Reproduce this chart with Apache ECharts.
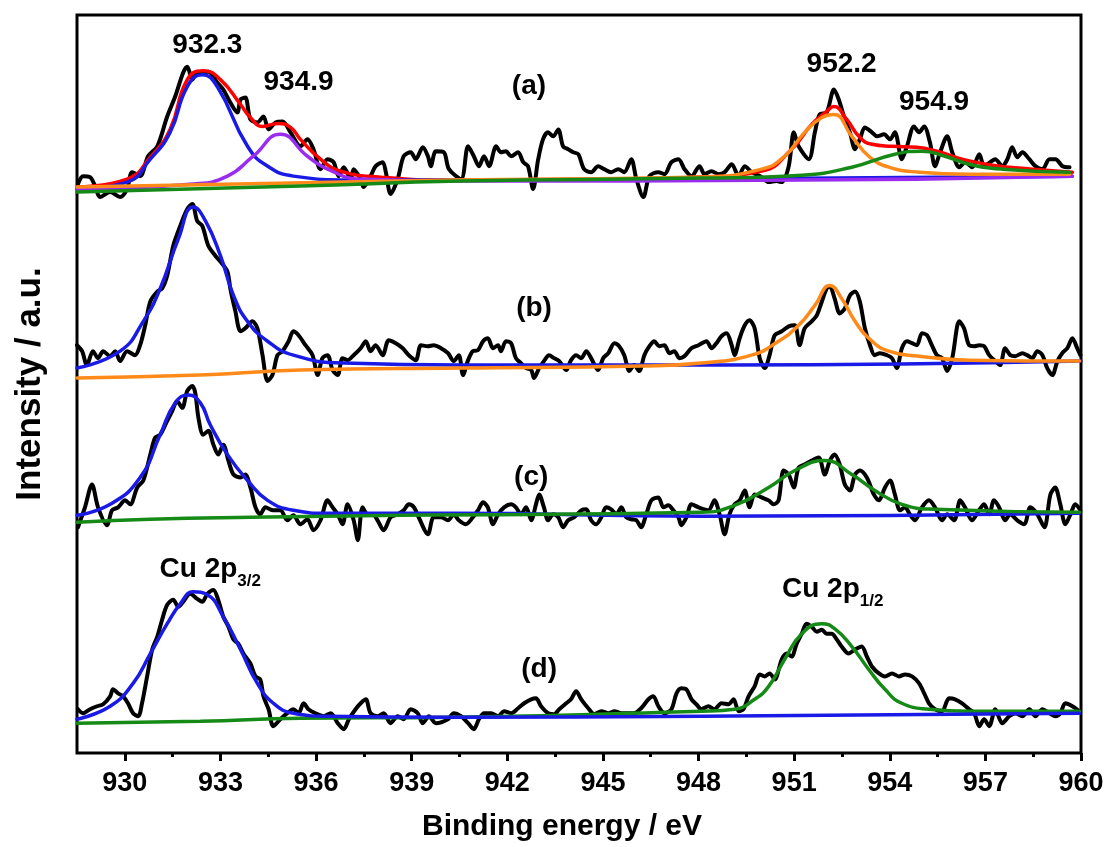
<!DOCTYPE html>
<html><head><meta charset="utf-8">
<script src="https://cdn.jsdelivr.net/npm/echarts@6/dist/echarts.min.js"></script>
<style>html,body{margin:0;padding:0;background:#fff}#c{width:1109px;height:847px}</style>
</head><body><div id="c"></div><script>
// Binding energy tick labels
const xTicks = [930, 933, 936, 939, 942, 945, 948, 951, 954, 957, 960];
const xMinorTicks = [931.5, 934.5, 937.5, 940.5, 943.5, 946.5, 949.5, 952.5, 955.5, 958.5];

// ---- spectrum (a) ----
const aRaw = [[928.53,572],[928.69,580],[928.91,579],[929.07,570],[929.22,559],[929.54,564],[929.85,559],[930.07,567],[930.23,584],[930.48,580],[930.73,600],[931.02,610],[931.33,640],[931.58,660],[931.83,684],[931.96,690],[932.12,677],[932.27,685],[932.43,684],[932.62,685],[932.90,674],[933.09,667],[933.31,654],[933.53,644],[933.63,657],[933.78,659],[933.94,637],[934.16,634],[934.35,640],[934.51,627],[934.73,634],[934.95,635],[935.20,624],[935.51,610],[935.73,617],[935.92,607],[936.14,587],[936.36,597],[936.55,594],[936.71,580],[936.87,589],[937.09,577],[937.18,587],[937.40,577],[937.49,569],[937.71,580],[937.87,590],[938.09,594],[938.19,584],[938.34,562],[938.56,577],[938.75,600],[938.97,604],[939.13,597],[939.35,609],[939.51,600],[939.60,590],[939.76,605],[940.01,604],[940.17,587],[940.55,577],[940.77,610],[940.95,600],[941.11,590],[941.27,600],[941.43,590],[941.65,610],[941.80,604],[941.96,605],[942.12,600],[942.34,604],[942.50,594],[942.65,590],[942.81,567],[942.97,597],[943.12,617],[943.28,624],[943.44,620],[943.60,627],[943.75,610],[943.91,607],[944.07,604],[944.23,602],[944.41,587],[944.63,584],[944.85,590],[945.04,587],[945.26,584],[945.48,587],[945.67,584],[945.89,597],[946.05,577],[946.27,559],[946.46,580],[946.74,584],[946.93,582],[947.15,594],[947.37,597],[947.56,587],[947.78,580],[948.03,590],[948.19,582],[948.41,585],[948.63,582],[948.82,584],[949.04,592],[949.26,580],[949.45,590],[949.67,584],[949.98,579],[950.20,574],[950.45,575],[950.61,574],[950.83,590],[950.99,624],[951.14,610],[951.46,597],[951.65,624],[951.80,642],[952.02,644],[952.25,667],[952.40,657],[952.59,637],[952.75,624],[952.91,607],[953.06,617],[953.22,629],[953.44,624],[953.60,620],[953.82,622],[954.01,617],[954.16,624],[954.38,597],[954.54,610],[954.76,630],[954.92,624],[955.08,630],[955.26,614],[955.42,590],[955.58,604],[955.80,620],[955.96,604],[956.18,589],[956.37,594],[956.59,589],[956.81,602],[956.96,590],[957.15,594],[957.31,597],[957.53,590],[957.69,597],[957.84,609],[958.00,599],[958.16,604],[958.38,597],[958.57,590],[958.79,587],[959.01,597],[959.20,597],[959.42,590],[959.64,589]];
const aEnvelope = [[928.50,569],[930.07,577],[930.80,599],[931.42,627],[931.96,677],[932.46,686],[933.00,677],[933.63,652],[933.94,639],[934.32,630],[934.82,633],[935.20,629],[935.51,617],[936.14,597],[936.77,585],[938.03,579],[940.23,576],[944.95,577],[948.09,579],[949.98,585],[950.92,607],[951.55,632],[952.02,645],[952.24,650],[952.65,637],[953.06,619],[953.44,612],[954.07,610],[954.85,609],[955.48,605],[956.27,597],[957.21,591],[958.47,587],[959.73,584]];
const aPeak9323 = [[928.50,567],[930.07,574],[930.80,597],[931.42,624],[931.96,670],[932.43,682],[932.90,670],[933.85,610],[934.48,590],[935.29,580],[937.09,576],[948.09,577],[959.73,580]];
const aPeak9349 = [[928.50,567],[932.15,572],[933.22,580],[934.03,600],[934.88,622],[935.73,600],[936.36,587],[937.40,577],[940.23,575],[951.24,576],[959.73,580]];
const aPeak9522 = [[928.50,569],[940.23,576],[948.09,579],[949.98,587],[950.70,600],[951.33,624],[951.87,639],[952.24,642],[952.81,620],[953.34,600],[953.97,589],[954.92,584],[956.49,582],[959.64,582]];
const aPeak9549 = [[928.50,564],[935.51,570],[940.55,575],[948.09,578],[951.24,581],[952.81,589],[954.16,602],[955.01,605],[955.73,600],[956.49,592],[957.53,587],[959.64,584]];

// ---- spectrum (b) ----
const bRaw = [[928.50,410],[928.66,404],[928.81,390],[929.00,404],[929.16,397],[929.32,404],[929.54,399],[929.70,404],[929.85,394],[930.07,404],[930.32,400],[930.48,410],[930.64,430],[930.80,454],[931.02,464],[931.17,467],[931.33,480],[931.52,510],[931.74,530],[931.96,547],[932.12,552],[932.27,535],[932.43,530],[932.62,510],[932.84,500],[933.00,494],[933.22,484],[933.31,467],[933.47,444],[933.63,424],[933.78,427],[934.00,434],[934.16,427],[934.32,400],[934.48,374],[934.63,380],[934.79,400],[934.95,404],[935.14,414],[935.29,424],[935.45,420],[935.67,410],[935.89,400],[936.05,380],[936.20,397],[936.36,400],[936.52,385],[936.68,380],[936.83,397],[936.99,395],[937.18,400],[937.40,407],[937.56,414],[937.71,404],[937.87,410],[938.09,400],[938.28,415],[938.50,412],[938.72,407],[938.91,400],[939.13,395],[939.29,410],[939.51,409],[939.69,410],[939.92,407],[940.14,402],[940.32,394],[940.48,400],[940.61,380],[940.77,395],[940.92,404],[941.08,405],[941.24,414],[941.39,417],[941.55,407],[941.71,410],[941.80,404],[941.96,414],[942.12,412],[942.27,397],[942.43,392],[942.59,387],[942.75,385],[942.84,377],[943.00,387],[943.15,394],[943.31,400],[943.47,397],[943.63,394],[943.85,385],[944.00,395],[944.16,400],[944.32,397],[944.48,404],[944.63,397],[944.85,385],[945.01,397],[945.17,402],[945.36,412],[945.51,409],[945.67,400],[945.83,384],[945.98,390],[946.14,384],[946.30,400],[946.46,409],[946.61,414],[946.77,409],[946.93,410],[947.09,402],[947.24,404],[947.40,397],[947.56,399],[947.78,407],[948.00,410],[948.25,414],[948.41,407],[948.56,412],[948.72,419],[948.88,422],[949.04,410],[949.13,400],[949.29,417],[949.45,430],[949.60,435],[949.76,427],[949.92,397],[950.08,387],[950.23,400],[950.39,420],[950.61,424],[950.83,429],[951.02,430],[951.17,410],[951.33,427],[951.55,434],[951.71,440],[951.87,454],[952.02,467],[952.12,469],[952.27,457],[952.43,442],[952.59,447],[952.75,460],[952.91,464],[953.06,454],[953.22,427],[953.38,410],[953.53,400],[953.69,402],[953.91,400],[954.07,397],[954.22,387],[954.38,407],[954.54,414],[954.70,412],[954.85,410],[955.01,422],[955.17,420],[955.32,410],[955.48,400],[955.64,397],[955.80,384],[955.96,397],[956.18,434],[956.33,427],[956.49,410],[956.65,409],[956.81,410],[956.96,409],[957.12,400],[957.31,394],[957.46,390],[957.62,407],[957.78,400],[957.94,399],[958.16,402],[958.31,400],[958.47,397],[958.63,404],[958.79,400],[958.94,387],[959.10,380],[959.26,394],[959.41,402],[959.57,407],[959.73,417],[959.88,407],[959.98,400]];
const bPeak932 = [[928.50,387],[929.85,404],[930.58,434],[931.11,467],[931.68,517],[932.15,549],[932.53,535],[933.00,500],[933.41,460],[933.85,434],[934.48,414],[935.29,400],[936.87,392],[940.55,390],[948.72,390],[960.00,394]];
const bPeak952 = [[928.50,377],[932.37,380],[935.51,385],[940.55,387],[946.20,389],[948.09,392],[949.66,400],[950.51,414],[951.14,430],[951.65,450],[952.12,470],[952.49,457],[952.91,434],[953.34,417],[953.97,404],[954.92,399],[956.49,395],[959.95,394]];

// ---- spectrum (c) ----
const cRaw = [[928.53,227],[928.75,247],[928.97,270],[929.16,247],[929.44,229],[929.60,244],[929.79,247],[930.01,254],[930.17,250],[930.39,267],[930.58,274],[930.80,300],[930.95,317],[931.11,320],[931.33,334],[931.49,344],[931.64,354],[931.80,347],[931.96,364],[932.12,369],[932.21,362],[932.31,337],[932.46,320],[932.62,324],[932.78,310],[932.93,300],[933.09,310],[933.25,294],[933.41,280],[933.63,277],[933.78,280],[933.94,267],[934.10,247],[934.25,240],[934.41,247],[934.66,244],[934.88,244],[935.10,234],[935.29,239],[935.51,230],[935.73,235],[935.92,224],[936.14,234],[936.36,254],[936.52,247],[936.68,240],[936.83,230],[936.99,250],[937.18,234],[937.31,214],[937.46,247],[937.62,240],[937.78,240],[937.93,234],[938.12,224],[938.34,237],[938.56,240],[938.75,244],[938.91,250],[939.07,247],[939.22,237],[939.51,220],[939.69,237],[939.92,237],[940.14,234],[940.32,240],[940.48,234],[940.70,230],[940.92,237],[941.08,244],[941.24,252],[941.39,247],[941.55,230],[941.71,240],[941.90,247],[942.12,250],[942.27,247],[942.43,240],[942.59,247],[942.75,234],[942.90,250],[943.00,260],[943.15,247],[943.28,234],[943.44,240],[943.60,237],[943.75,227],[943.91,234],[944.10,237],[944.32,244],[944.48,245],[944.63,234],[944.79,230],[944.95,237],[945.10,247],[945.26,245],[945.42,240],[945.58,247],[945.73,237],[945.89,235],[946.05,234],[946.20,227],[946.36,240],[946.52,254],[946.74,257],[946.90,247],[947.05,249],[947.21,244],[947.37,237],[947.46,229],[947.62,237],[947.78,250],[948.00,247],[948.31,244],[948.50,254],[948.66,240],[948.82,220],[948.97,240],[949.13,250],[949.29,254],[949.45,264],[949.60,247],[949.76,260],[949.98,257],[950.20,254],[950.36,250],[950.51,254],[950.67,284],[950.83,280],[950.99,267],[951.14,287],[951.33,290],[951.55,294],[951.77,297],[951.96,280],[952.12,294],[952.27,300],[952.43,290],[952.59,270],[952.75,264],[952.91,280],[953.06,284],[953.28,277],[953.50,260],[953.66,254],[953.85,267],[954.01,274],[954.16,260],[954.32,244],[954.48,247],[954.63,240],[954.79,234],[955.01,247],[955.23,254],[955.42,247],[955.64,234],[955.80,240],[956.02,234],[956.21,254],[956.36,247],[956.58,234],[956.80,244],[956.96,250],[957.12,240],[957.27,254],[957.43,247],[957.62,234],[957.78,240],[958.00,234],[958.22,230],[958.41,247],[958.63,240],[958.85,227],[959.04,260],[959.19,267],[959.35,250],[959.51,230],[959.67,240],[959.82,250],[959.98,244]];
const cPeak932 = [[928.50,239],[929.54,250],[930.48,277],[931.11,320],[931.58,352],[932.00,360],[932.37,352],[932.68,330],[933.22,300],[933.85,274],[934.48,254],[935.29,244],[936.36,241],[940.23,241],[948.09,238],[959.95,241]];
const cPeak952 = [[928.50,232],[930.80,235],[933.94,237],[938.66,239],[948.09,242],[949.13,249],[950.20,267],[951.02,284],[951.96,294],[952.81,280],[953.53,264],[954.38,250],[955.42,245],[959.95,242]];

// ---- spectrum (d) ----
const dRaw = [[928.53,44],[928.69,40],[928.91,44],[929.13,47],[929.32,49],[929.54,57],[929.63,64],[929.79,60],[929.95,57],[930.10,50],[930.26,40],[930.42,37],[930.54,50],[930.70,77],[930.86,104],[931.02,117],[931.17,134],[931.33,149],[931.52,154],[931.68,147],[931.83,152],[932.05,160],[932.27,155],[932.43,152],[932.59,160],[932.78,164],[932.93,154],[933.09,137],[933.25,127],[933.41,114],[933.56,110],[933.72,100],[933.94,90],[934.10,77],[934.25,74],[934.35,57],[934.51,44],[934.66,27],[934.88,34],[935.10,40],[935.29,44],[935.45,40],[935.61,50],[935.76,44],[935.98,40],[936.24,37],[936.46,40],[936.68,30],[936.87,24],[937.03,34],[937.24,44],[937.40,50],[937.56,54],[937.71,40],[937.93,37],[938.12,40],[938.34,30],[938.56,37],[938.75,34],[938.97,44],[939.19,40],[939.35,30],[939.54,37],[939.76,30],[940.14,34],[940.32,40],[940.55,37],[940.77,30],[940.95,24],[941.11,34],[941.27,40],[941.49,40],[941.71,37],[941.90,42],[942.12,40],[942.34,45],[942.53,50],[942.75,54],[942.90,55],[943.06,47],[943.28,40],[943.47,39],[943.63,44],[943.85,50],[944.00,54],[944.16,62],[944.32,54],[944.54,45],[944.73,39],[944.95,42],[945.17,40],[945.36,42],[945.58,40],[945.80,40],[945.98,40],[946.20,45],[946.43,54],[946.58,57],[946.74,47],[946.93,40],[947.15,44],[947.31,60],[947.46,65],[947.62,64],[947.78,54],[947.93,49],[948.09,44],[948.31,47],[948.50,44],[948.72,50],[948.94,49],[949.10,54],[949.26,42],[949.41,44],[949.57,57],[949.76,67],[949.92,79],[950.08,77],[950.23,80],[950.39,74],[950.61,94],[950.77,100],[950.92,97],[951.08,110],[951.24,120],[951.39,130],[951.55,127],[951.71,122],[951.87,124],[952.02,120],[952.18,120],[952.34,114],[952.49,107],[952.71,100],[952.91,104],[953.12,107],[953.28,97],[953.44,87],[953.66,80],[953.85,77],[954.07,80],[954.29,77],[954.48,79],[954.70,77],[954.92,70],[955.08,60],[955.23,50],[955.42,44],[955.64,42],[955.86,55],[956.05,54],[956.27,50],[956.49,44],[956.65,40],[956.81,27],[956.96,34],[957.12,27],[957.31,44],[957.53,30],[957.75,37],[957.94,40],[958.16,37],[958.38,44],[958.57,37],[958.79,44],[959.01,40],[959.20,37],[959.35,40],[959.51,50],[959.73,47],[959.95,42]];
const dPeak932 = [[928.50,34],[929.54,47],[930.26,70],[930.80,100],[931.33,130],[931.74,150],[932.15,162],[932.59,159],[933.09,137],[933.63,104],[934.16,70],[934.66,50],[935.29,40],[936.36,37],[940.23,36],[948.09,37],[959.95,40]];
const dPeak952 = [[928.50,30],[932.37,32],[935.51,35],[940.23,36],[948.09,42],[949.13,44],[949.76,54],[950.20,67],[950.70,94],[951.24,120],[951.87,130],[952.27,125],[952.81,107],[953.34,84],[953.85,64],[954.38,50],[955.23,44],[956.49,42],[959.95,42]];

// ---- annotations: [energy, intensity, text] ----
const annotations = [
  [932.59, 712, '932.3'],
  [935.45, 674, '934.9'],
  [952.49, 692, '952.2'],
  [955.39, 654, '954.9'],
  [942.68, 670, '(a)'],
  [942.84, 447, '(b)'],
  [942.75, 277, '(c)'],
  [943.00, 84, '(d)'],
  [932.68, 185, '{m|Cu 2p}{s|3/2}'],
  [952.21, 165, '{m|Cu 2p}{s|1/2}']
];

const FONT = '"Liberation Sans", Arial, Helvetica, sans-serif';
const C = {black:'#000000', red:'#ff0000', blue:'#1a1ae6', purple:'#9a2cf0', orange:'#ff8a1a', green:'#168a16'};

function ln(name, data, color, width, smooth) {
  return {type:'line', name, data, symbol:'none', showSymbol:false, smooth, silent:true,
    lineStyle:{color, width, cap:'round', join:'round'}, itemStyle:{color}};
}

const RAW_W = 4, FIT_W = 3.5;
const series = [
  ln('a raw', aRaw, C.black, RAW_W, 0.3),
  ln('a envelope', aEnvelope, C.red, FIT_W, 0.5),
  ln('a 932.3', aPeak9323, C.blue, FIT_W, 0.5),
  ln('a 934.9', aPeak9349, C.purple, FIT_W, 0.5),
  ln('a 952.2', aPeak9522, C.orange, FIT_W, 0.5),
  ln('a 954.9', aPeak9549, C.green, FIT_W, 0.5),
  ln('b raw', bRaw, C.black, RAW_W, 0.3),
  ln('b 932', bPeak932, C.blue, FIT_W, 0.5),
  ln('b 952', bPeak952, C.orange, FIT_W, 0.5),
  ln('c raw', cRaw, C.black, RAW_W, 0.3),
  ln('c 932', cPeak932, C.blue, FIT_W, 0.5),
  ln('c 952', cPeak952, C.green, FIT_W, 0.5),
  ln('d raw', dRaw, C.black, RAW_W, 0.3),
  ln('d 952', dPeak952, C.green, FIT_W, 0.5),
  ln('d 932', dPeak932, C.blue, FIT_W, 0.5),
  {type:'scatter', symbolSize:0, silent:true, z:10, itemStyle:{color:'#000', opacity:1},
   data: annotations.map(a => ({value:[a[0], a[1]], name:a[2]})),
   label:{show:true, position:'inside', formatter:'{b}', color:'#000', opacity:1,
     textBorderWidth:0, textBorderColor:'transparent', textShadowBlur:0,
     fontFamily:FONT, fontSize:28, fontWeight:'bold',
     rich:{
       m:{fontFamily:FONT, fontSize:28, fontWeight:'bold', color:'#000', textBorderWidth:0, verticalAlign:'middle'},
       s:{fontFamily:FONT, fontSize:17, fontWeight:'bold', color:'#000', textBorderWidth:0, padding:[24,0,0,0], verticalAlign:'middle'}
     }}}
];

const chart = echarts.init(document.getElementById('c'), null, {renderer:'canvas'});
chart.setOption({
  animation:false,
  backgroundColor:'#fff',
  grid:{left:77, right:28, top:15, bottom:90, show:true, borderColor:'#000', borderWidth:3, backgroundColor:'transparent'},
  xAxis:[
    {type:'value', min:928.5, max:960, position:'bottom',
     axisLine:{show:false}, splitLine:{show:false},
     axisTick:{show:true, length:8, lineStyle:{color:'#000', width:3}, customValues:xTicks},
     axisLabel:{show:true, customValues:xTicks, margin:17, color:'#000', fontFamily:FONT, fontSize:27, fontWeight:'bold'},
     name:'Binding energy / eV', nameLocation:'middle', nameGap:59,
     nameTextStyle:{color:'#000', fontFamily:FONT, fontSize:30, fontWeight:'bold', padding:[0,34,0,0]}},
    {type:'value', min:928.5, max:960, position:'bottom',
     axisLine:{show:false}, splitLine:{show:false}, axisLabel:{show:false},
     axisTick:{show:true, length:4, lineStyle:{color:'#000', width:3}, customValues:xMinorTicks}}
  ],
  yAxis:{type:'value', min:0, max:742, axisLine:{show:false}, axisTick:{show:false}, axisLabel:{show:false}, splitLine:{show:false},
    name:'Intensity / a.u.', nameLocation:'middle', nameGap:29, nameRotate:90,
    nameTextStyle:{color:'#000', fontFamily:FONT, fontSize:35, fontWeight:'bold'}},
  series
});
</script></body></html>
